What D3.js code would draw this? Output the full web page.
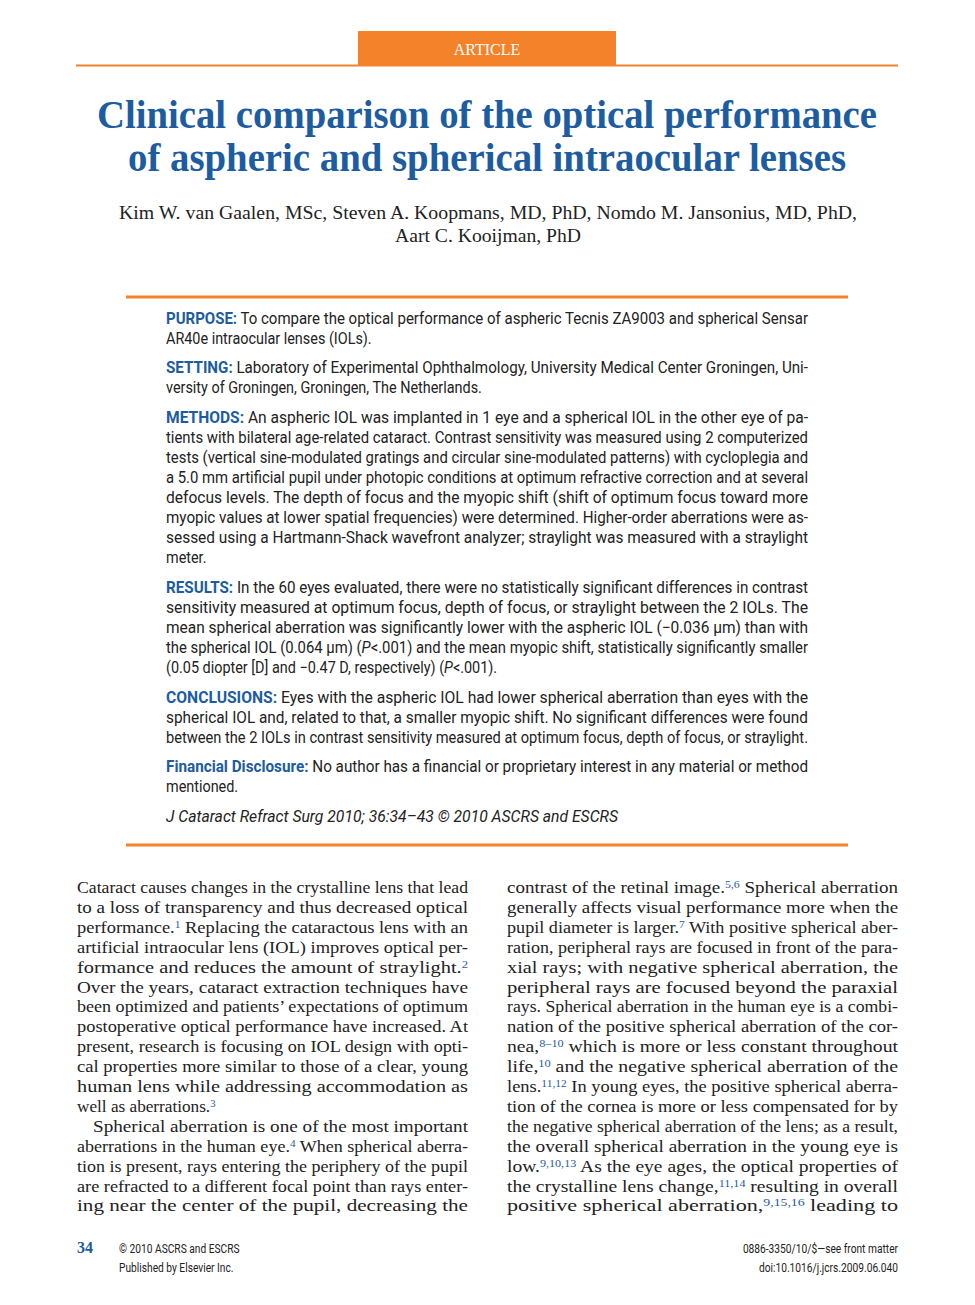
<!DOCTYPE html>
<html><head><meta charset="utf-8">
<script src="https://cdn.jsdelivr.net/npm/d3@7"></script>
<style>body{margin:0;background:#fff}</style></head>
<body><svg id="c" width="975" height="1305"></svg>
<script>
const titleLines=["Clinical comparison of the optical performance","of aspheric and spherical intraocular lenses"];
const authorLines=["Kim W. van Gaalen, MSc, Steven A. Koopmans, MD, PhD, Nomdo M. Jansonius, MD, PhD,","Aart C. Kooijman, PhD"];
// [text, justified]
const abstractParas=[
 [["**PURPOSE:** To compare the optical performance of aspheric Tecnis ZA9003 and spherical Sensar",1],["AR40e intraocular lenses (IOLs).",0]],
 [["**SETTING:** Laboratory of Experimental Ophthalmology, University Medical Center Groningen, Uni-",1],["versity of Groningen, Groningen, The Netherlands.",0]],
 [["**METHODS:** An aspheric IOL was implanted in 1 eye and a spherical IOL in the other eye of pa-",1],["tients with bilateral age-related cataract. Contrast sensitivity was measured using 2 computerized",1],["tests (vertical sine-modulated gratings and circular sine-modulated patterns) with cycloplegia and",1],["a 5.0 mm artificial pupil under photopic conditions at optimum refractive correction and at several",1],["defocus levels. The depth of focus and the myopic shift (shift of optimum focus toward more",1],["myopic values at lower spatial frequencies) were determined. Higher-order aberrations were as-",1],["sessed using a Hartmann-Shack wavefront analyzer; straylight was measured with a straylight",1],["meter.",0]],
 [["**RESULTS:** In the 60 eyes evaluated, there were no statistically significant differences in contrast",1],["sensitivity measured at optimum focus, depth of focus, or straylight between the 2 IOLs. The",1],["mean spherical aberration was significantly lower with the aspheric IOL (\u22120.036 \u03bcm) than with",1],["the spherical IOL (0.064 \u03bcm) (_P_<.001) and the mean myopic shift, statistically significantly smaller",1],["(0.05 diopter [D] and \u22120.47 D, respectively) (_P_<.001).",0]],
 [["**CONCLUSIONS:** Eyes with the aspheric IOL had lower spherical aberration than eyes with the",1],["spherical IOL and, related to that, a smaller myopic shift. No significant differences were found",1],["between the 2 IOLs in contrast sensitivity measured at optimum focus, depth of focus, or straylight.",1]],
 [["**Financial Disclosure:** No author has a financial or proprietary interest in any material or method",1],["mentioned.",0]],
 [["_J Cataract Refract Surg 2010; 36:34\u201343 \u00a9 2010 ASCRS and ESCRS_",3]]
];
const col1=[["Cataract causes changes in the crystalline lens that lead",1],["to a loss of transparency and thus decreased optical",1],["performance.^{1} Replacing the cataractous lens with an",1],["artificial intraocular lens (IOL) improves optical per-",1],["formance and reduces the amount of straylight.^{2}",1],["Over the years, cataract extraction techniques have",1],["been optimized and patients\u2019 expectations of optimum",1],["postoperative optical performance have increased. At",1],["present, research is focusing on IOL design with opti-",1],["cal properties more similar to those of a clear, young",1],["human lens while addressing accommodation as",1],["well as aberrations.^{3}",0],["Spherical aberration is one of the most important",2],["aberrations in the human eye.^{4} When spherical aberra-",1],["tion is present, rays entering the periphery of the pupil",1],["are refracted to a different focal point than rays enter-",1],["ing near the center of the pupil, decreasing the",1]];
const col2=[["contrast of the retinal image.^{5,6} Spherical aberration",1],["generally affects visual performance more when the",1],["pupil diameter is larger.^{7} With positive spherical aber-",1],["ration, peripheral rays are focused in front of the para-",1],["xial rays; with negative spherical aberration, the",1],["peripheral rays are focused beyond the paraxial",1],["rays. Spherical aberration in the human eye is a combi-",1],["nation of the positive spherical aberration of the cor-",1],["nea,^{8\u201310} which is more or less constant throughout",1],["life,^{10} and the negative spherical aberration of the",1],["lens.^{11,12} In young eyes, the positive spherical aberra-",1],["tion of the cornea is more or less compensated for by",1],["the negative spherical aberration of the lens; as a result,",1],["the overall spherical aberration in the young eye is",1],["low.^{9,10,13} As the eye ages, the optical properties of",1],["the crystalline lens change,^{11,14} resulting in overall",1],["positive spherical aberration,^{9,15,16} leading to",1]];

const svg=d3.select("#c");
const BLUE="#1d5c9f", ORANGE="#f4822a";
function rich(sel,str,opts){
  const parts=str.split(/(\*\*.*?\*\*|\^\{.*?\}|_.*?_)/).filter(s=>s.length);
  parts.forEach(p=>{
    const t=sel.append("tspan");
    if(p.startsWith("**")){t.text(p.slice(2,-2)).attr("font-weight","bold").attr("fill",BLUE);}
    else if(p.startsWith("^{")){t.text(p.slice(2,-1)).attr("font-size",opts.size*0.62).attr("baseline-shift","super").attr("fill",BLUE);}
    else if(p.startsWith("_")){t.text(p.slice(1,-1)).attr("font-style","italic");}
    else t.text(p);
  });
}
svg.append("rect").attr("x",358).attr("y",31).attr("width",258).attr("height",34).attr("fill",ORANGE);
svg.append("text").attr("x",487).attr("y",55).attr("text-anchor","middle").attr("fill","#fff").attr("font-family","Liberation Serif").attr("font-size",16).text("ARTICLE");
svg.append("line").attr("x1",76).attr("x2",898).attr("y1",65.5).attr("y2",65.5).attr("stroke",ORANGE).attr("stroke-width",2);
const tW=[780,718];
titleLines.forEach((l,i)=>svg.append("text").attr("x",487).attr("y",128+i*43).attr("text-anchor","middle").attr("fill",BLUE).attr("font-family","Liberation Serif").attr("font-weight","bold").attr("font-size",39).attr("textLength",tW[i]).attr("lengthAdjust","spacingAndGlyphs").text(l));
const aW=[738,186];
authorLines.forEach((l,i)=>svg.append("text").attr("x",488).attr("y",219+i*23).attr("text-anchor","middle").attr("fill","#222").attr("font-family","Liberation Serif").attr("font-size",18.5).attr("textLength",aW[i]).attr("lengthAdjust","spacingAndGlyphs").text(l));
[297,845].forEach(y=>svg.append("line").attr("x1",126).attr("x2",848).attr("y1",y).attr("y2",y).attr("stroke",ORANGE).attr("stroke-width",3));
const aY=[319,368,418,588,698,767,817];
abstractParas.forEach((p,pi)=>p.forEach(([s,j],li)=>{
  const t=svg.append("text").attr("x",166).attr("y",aY[pi]+li*20+5).attr("font-family","Roboto").attr("font-size",16).attr("fill","#222");
  rich(t,s,{size:16});
  const w=j===1?642:(j===3?452:t.node().getComputedTextLength()*0.9);
  t.attr("textLength",w).attr("lengthAdjust","spacingAndGlyphs");
}));
function col(lines,x0){
  lines.forEach(([s,j],i)=>{
    const ind=j===2?16:0;
    const t=svg.append("text").attr("x",x0+ind).attr("y",893+i*19.9).attr("font-family","Liberation Serif").attr("font-size",17.2).attr("fill","#222");
    rich(t,s,{size:17.2});
    if(j){t.attr("textLength",391-ind).attr("lengthAdjust","spacingAndGlyphs");}
  });
}
col(col1,77);col(col2,507);
svg.append("text").attr("x",77).attr("y",1253).attr("fill",BLUE).attr("font-family","Liberation Serif").attr("font-weight","bold").attr("font-size",16).text("34");
const ft=[["\u00a9 2010 ASCRS and ESCRS",119,1253,"start"],["Published by Elsevier Inc.",119,1272,"start"],["0886-3350/10/$\u2014see front matter",898,1253,"end"],["doi:10.1016/j.jcrs.2009.06.040",898,1272,"end"]];
ft.forEach(([s,x,y,a])=>{const t=svg.append("text").attr("x",x).attr("y",y).attr("text-anchor",a).attr("font-family","Roboto").attr("font-size",12).attr("fill","#222").text(s);t.attr("textLength",t.node().getComputedTextLength()*0.85).attr("lengthAdjust","spacingAndGlyphs");});
</script></body></html>
